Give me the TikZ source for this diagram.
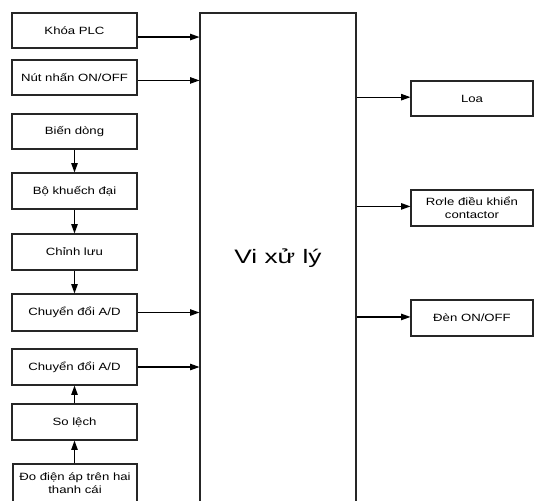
\documentclass[tikz,border=0pt]{standalone}
\usepackage{fontspec}
\setmainfont{Liberation Sans}[FakeStretch=1.25]
\newfontfamily\bigfont{Liberation Sans}[FakeStretch=1.35]
\usetikzlibrary{arrows.meta}
\begin{document}
\begin{tikzpicture}[x=0.75pt,y=-0.75pt,
  box/.style={draw=black!85, line width=0.8pt, inner sep=0pt, align=center,
    font=\fontsize{7.9pt}{9.75pt}\selectfont, minimum width=93.75pt, minimum height=27pt},
  rbox/.style={box, minimum width=91.5pt},
  arr/.style={-{Triangle[length=7pt,width=4.8pt]}, line width=0.85pt}]
\clip (0,0) rectangle (534,500);
\fill[white] (0,0) rectangle (534,500);
% left column
\node[box, minimum height=26.25pt] (khoa) at (74.5,30.5) {Khóa PLC};
\node[box, minimum height=26.25pt] (nut) at (74.5,77.5) {Nút nhấn ON/OFF};
\node[box, minimum height=26.25pt] (bien) at (74.5,131.5) {Biến dòng};
\node[box] (bo) at (74.5,191) {Bộ khuếch đại};
\node[box] (chinh) at (74.5,252) {Chỉnh lưu};
\node[box, minimum height=27.75pt] (ad1) at (74.5,312.5) {Chuyển đổi A/D};
\node[box] (ad2) at (74.5,367) {Chuyển đổi A/D};
\node[box] (so) at (74.5,422) {So lệch};
\node[box, minimum width=93pt, minimum height=28.5pt] (do) at (75,483) {Đo điện áp trên hai\\thanh cái};
% processor
\node[box, minimum width=117pt, minimum height=380.25pt] (vi) at (278,266.5) {};
\node[font=\bigfont\fontsize{14.6pt}{17pt}\selectfont] (vitext) at (278,258) {Vi xử lý};
% right column
\node[rbox, minimum height=26.25pt] (loa) at (472,98.5) {Loa};
\node[rbox] (role) at (472,208) {Rơle điều khiển\\contactor};
\node[rbox] (den) at (472,318) {Đèn ON/OFF};
% connectors
\draw[arr] ([yshift=-4.9pt]khoa.east) -- ([yshift=-4.9pt]khoa.east -| vi.west);
\draw[arr] ([yshift=-2.2pt]nut.east) -- ([yshift=-2.2pt]nut.east -| vi.west);
\draw[arr] (ad1.east) -- (ad1.east -| vi.west);
\draw[arr] (ad2.east) -- (ad2.east -| vi.west);
\draw[arr] (bien.south) -- (bo.north);
\draw[arr] (bo.south) -- (chinh.north);
\draw[arr] (chinh.south) -- (ad1.north);
\draw[arr] (so.north) -- (ad2.south);
\draw[arr] (do.north -| so.south) -- (so.south);
\draw[arr] ([yshift=1pt]loa.west -| vi.east) -- ([yshift=1pt]loa.west);
\draw[arr] ([yshift=1.2pt]role.west -| vi.east) -- ([yshift=1.2pt]role.west);
\draw[arr] ([yshift=0.8pt]den.west -| vi.east) -- ([yshift=0.8pt]den.west);
\end{tikzpicture}
\end{document}
